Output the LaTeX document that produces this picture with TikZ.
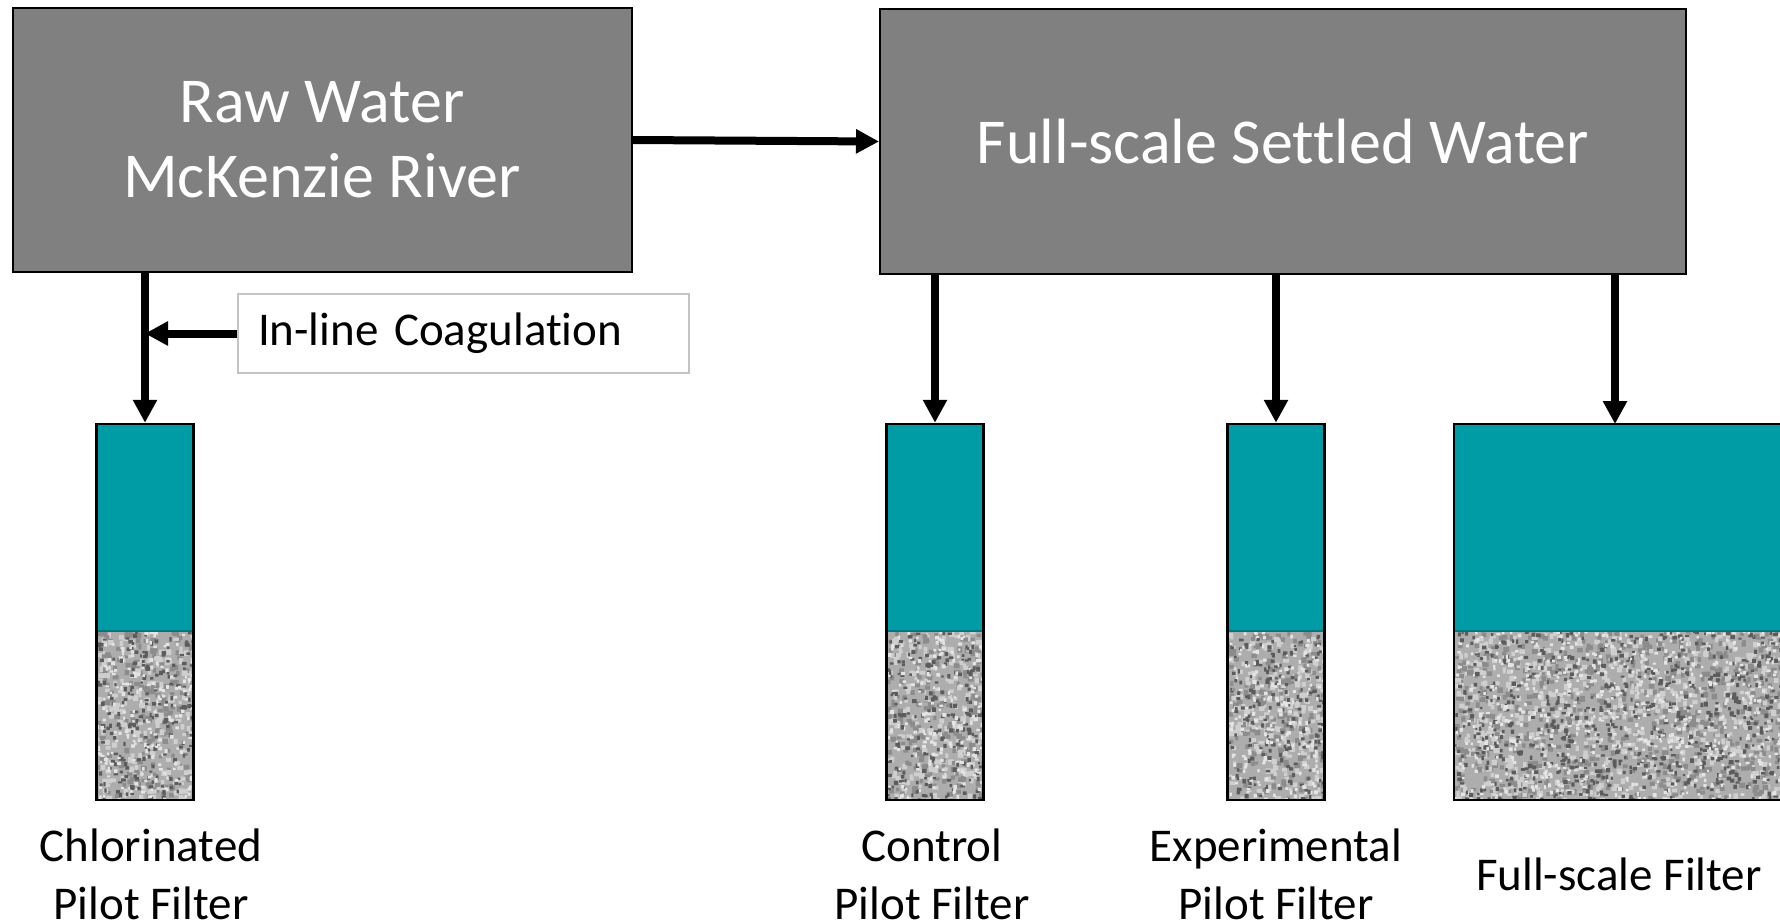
\documentclass[tikz,border=0pt]{standalone}
\usepackage{fontspec}
\setmainfont{Carlito}[Ligatures=NoCommon]
\usetikzlibrary{arrows.meta}

\definecolor{boxgrey}{HTML}{808080}
\definecolor{water}{HTML}{009CA6}
\definecolor{waterline}{HTML}{00787F}
\definecolor{sandbase}{HTML}{ADADAD}
\definecolor{sanddark}{HTML}{5C5C5C}
\definecolor{sandmid}{HTML}{8C8C8C}
\definecolor{sandlight}{HTML}{CFCFCF}
\definecolor{sandwhite}{HTML}{E4E4E4}
\definecolor{coagline}{HTML}{C4C4C4}

\tikzset{
  bigbox/.style={draw=black, line width=2pt, fill=boxgrey, text=white,
    inner sep=0pt, align=center, font=\fontsize{64}{75}\selectfont},
  coagbox/.style={draw=coagline, line width=2pt, fill=white, inner sep=0pt,
    minimum width=451pt, minimum height=79pt, text width=411pt, align=left,
    font=\fontsize{47}{56}\selectfont},
  filterframe/.style={draw=black, line width=2.5pt, inner sep=0pt,
    minimum height=376pt},
  caption/.style={align=center, inner sep=0pt, font=\fontsize{47}{58}\selectfont},
  flow/.style={line width=8pt, -{Triangle[length=23pt,width=23pt]}},
}

% a batch of 50 sand grains of one shade inside the bed of a filter
% #1 colour, #2 centre x, #3 half width, #4 grain size, #5 size spread
\newcommand{\grains}[5]{%
  \fill[#1] foreach \k in {1,...,50}
    { ({#2+rand*#3},{715.5+rand*85}) rectangle ++({#4+rnd*#5},{#4+rnd*#5}) };
}

% one filter column: water above, sand bed below
% #1 name, #2 centre x, #3 width, #4 batches of grains per shade
\newcommand{\filtercolumn}[4]{%
  \fill[water] ({#2-#3/2},424) rectangle ({#2+#3/2},631);
  \begin{scope}
    \clip ({#2-#3/2},631) rectangle ({#2+#3/2},800);
    \fill[sandbase] ({#2-#3/2},631) rectangle ({#2+#3/2},800);
    \foreach \b in {1,...,#4} {
      \grains{sandmid}{#2}{#3/2}{3}{3}
      \grains{sandlight}{#2}{#3/2}{3}{3}
    }
    \foreach \b in {1,...,#4} {
      \grains{sanddark}{#2}{#3/2}{2}{2.5}
      \grains{sandwhite}{#2}{#3/2}{2}{2}
    }
  \end{scope}
  \draw[waterline, line width=1.5pt] ({#2-#3/2},631) -- ({#2+#3/2},631);
  \node[filterframe, minimum width=#3 pt] (#1) at (#2,612) {};
}

\begin{document}
\begin{tikzpicture}[x=1pt, y=-1pt]
  \pgfmathsetseed{4711}
  \useasboundingbox[fill=white] (0,0) rectangle (1780,923);

  % source boxes
  \node[bigbox, minimum width=619pt, minimum height=264pt] (raw) at (322,140)
    {Raw Water\\McKenzie River};
  \node[bigbox, minimum width=806pt, minimum height=265pt] (settled) at (1283,141.5)
    {Full-scale Settled Water};

  % filter columns
  \filtercolumn{chl}{145}{97}{4}
  \filtercolumn{ctl}{935}{97}{4}
  \filtercolumn{exp}{1276}{97}{4}
  \filtercolumn{fsf}{1644}{380}{15}

  % coagulant dosing point
  \node[coagbox] (coag) at (463.5,333.5) {In-line Coagulation};
  \coordinate (dose) at (coag.west -| chl.north);
  \coordinate (fsin) at (1615,424);

  % connectors
  \draw[flow] (raw.east) -- (settled.west);
  \draw[flow] (raw.south -| chl.north) -- (chl.north);
  \draw[flow] (coag.west) -- (dose);
  \draw[flow] (settled.south -| ctl.north) -- (ctl.north);
  \draw[flow] (settled.south -| exp.north) -- (exp.north);
  \draw[flow] (settled.south -| fsin) -- (fsin);

  % captions
  \node[caption] (chlcap) at (151,874) {Chlorinated\\Pilot Filter};
  \node[caption] (ctlcap) at (932,874) {Control\\Pilot Filter};
  \node[caption] (expcap) at (1276,874) {Experimental\\Pilot Filter};
  \node[caption] (fsfcap) at (1619,874) {Full-scale Filter};
\end{tikzpicture}
\end{document}
